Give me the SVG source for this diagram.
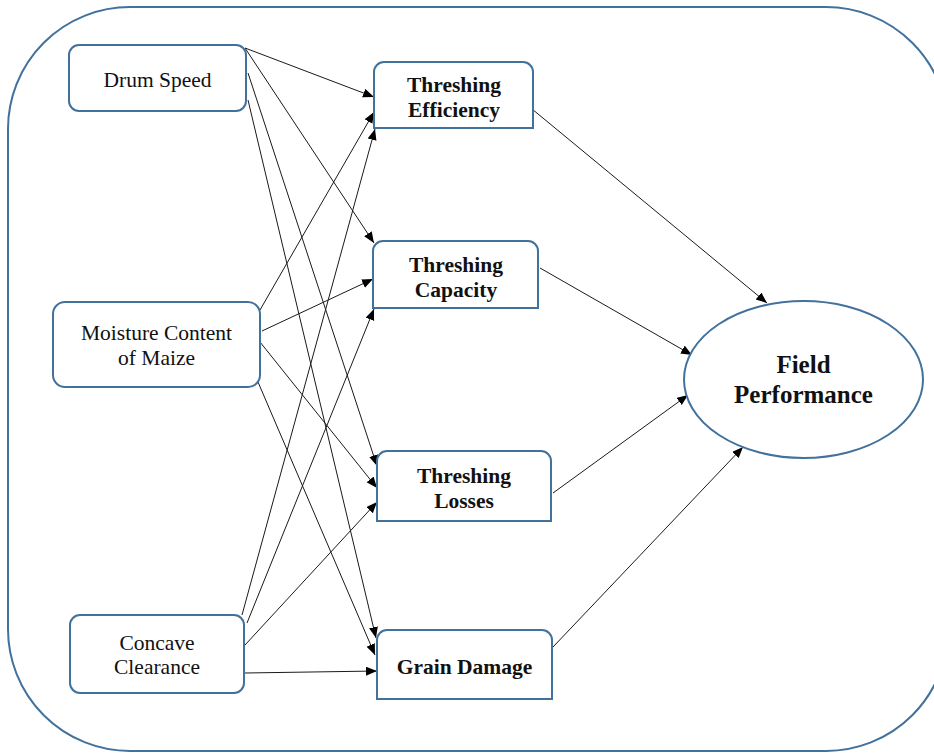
<svg xmlns="http://www.w3.org/2000/svg" width="934" height="753" viewBox="0 0 934 753">
<style>
.box{fill:#fff;stroke:#41719C;stroke-width:2}
.frame{fill:#fff;stroke:#41719C;stroke-width:2}
.t{font-family:"Times New Roman","Liberation Serif",Tinos,serif;font-size:21.5px;font-weight:normal;fill:#111;text-anchor:middle}
.b{font-family:"Times New Roman","Liberation Serif",Tinos,serif;font-size:21.5px;font-weight:bold;fill:#111;text-anchor:middle}
.fp{font-family:"Times New Roman","Liberation Serif",Tinos,serif;font-size:25px;font-weight:bold;fill:#111;text-anchor:middle}
.c line{stroke:#1a1a1a;stroke-width:1;marker-end:url(#ah)}
</style>
<defs>
<marker id="ah" markerUnits="userSpaceOnUse" markerWidth="12" markerHeight="10" refX="11" refY="4.5" orient="auto">
<path d="M0,0 L11,4.5 L0,9 z" fill="#000"/>
</marker>
</defs>
<rect class="frame" x="8" y="7" width="940" height="744" rx="122" ry="122"/>
<g id="connectors" class="c">
<line x1="245" y1="48" x2="374" y2="97"/>
<line x1="245" y1="48" x2="374" y2="243"/>
<line x1="248" y1="73" x2="377" y2="466"/>
<line x1="248" y1="100" x2="376" y2="638"/>
<line x1="260" y1="310" x2="374" y2="112"/>
<line x1="262" y1="331" x2="373" y2="279"/>
<line x1="260" y1="342" x2="377" y2="488"/>
<line x1="258" y1="382" x2="375" y2="655"/>
<line x1="242" y1="615" x2="375" y2="129"/>
<line x1="247" y1="623" x2="374" y2="309"/>
<line x1="245" y1="645" x2="377" y2="502"/>
<line x1="245" y1="673" x2="377" y2="671"/>
<line x1="532" y1="109" x2="767" y2="303"/>
<line x1="540" y1="268" x2="692" y2="355"/>
<line x1="553" y1="493" x2="688" y2="395"/>
<line x1="553" y1="647" x2="743" y2="447"/>
</g>
<g id="drum-speed">
<rect class="box" x="69" y="45" width="177" height="66" rx="10"/>
<text class="t" x="157.5" y="87">Drum Speed</text>
</g>
<g id="moisture-content">
<rect class="box" x="53" y="302" width="207" height="85" rx="12"/>
<text class="t" x="156.5" y="340">Moisture Content</text>
<text class="t" x="156.5" y="365">of Maize</text>
</g>
<g id="concave-clearance">
<rect class="box" x="70" y="615" width="174" height="78" rx="10"/>
<text class="t" x="157" y="650">Concave</text>
<text class="t" x="157" y="674">Clearance</text>
</g>
<g id="threshing-efficiency">
<path class="box" d="M374,128 V72 A10,10 0 0 1 384,62 H523 A10,10 0 0 1 533,72 V128 Z"/>
<text class="b" x="454" y="92">Threshing</text>
<text class="b" x="454" y="117">Efficiency</text>
</g>
<g id="threshing-capacity">
<path class="box" d="M373,308 V251 A10,10 0 0 1 383,241 H528 A10,10 0 0 1 538,251 V308 Z"/>
<text class="b" x="456" y="272">Threshing</text>
<text class="b" x="456" y="297">Capacity</text>
</g>
<g id="threshing-losses">
<path class="box" d="M377,521 V461 A10,10 0 0 1 387,451 H541 A10,10 0 0 1 551,461 V521 Z"/>
<text class="b" x="464" y="483">Threshing</text>
<text class="b" x="464" y="508">Losses</text>
</g>
<g id="grain-damage">
<path class="box" d="M377,699 V640 A10,10 0 0 1 387,630 H542 A10,10 0 0 1 552,640 V699 Z"/>
<text class="b" x="464.5" y="674">Grain Damage</text>
</g>
<g id="field-performance">
<ellipse class="box" cx="803.5" cy="379.5" rx="119.5" ry="78.5"/>
<text class="fp" x="803.5" y="373">Field</text>
<text class="fp" x="803.5" y="403">Performance</text>
</g>
</svg>
